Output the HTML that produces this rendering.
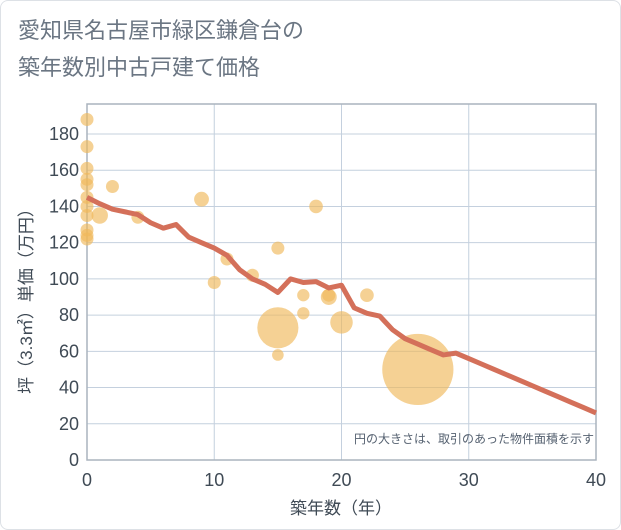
<!DOCTYPE html>
<html><head><meta charset="utf-8"><style>
body{margin:0;background:#fff;}
.wrap{position:relative;width:621px;height:530px;font-family:"Liberation Sans","Noto Sans CJK JP",sans-serif;}
.border{position:absolute;left:0;top:0;width:619px;height:528px;border:1px solid #dde1e6;border-radius:8px;}
.title{position:absolute;left:18px;top:12px;font-size:22px;color:#6b7683;line-height:37px;}
svg text{font-family:"Liberation Sans","Noto Sans CJK JP",sans-serif;}
</style></head><body>
<div class="wrap">
<div class="border"></div>
<div class="title">愛知県名古屋市緑区鎌倉台の<br>築年数別中古戸建て価格</div>
<svg id="c" width="621" height="530" style="position:absolute;left:0;top:0"></svg>
</div>
<script>
const xTicks=[0,10,20,30,40];
const yTicks=[0,20,40,60,80,100,120,140,160,180];
const lineYears=[0,1,2,3,4,5,6,7,8,9,10,11,12,13,14,15,16,17,18,19,20,21,22,23,24,25,26,27,28,29,30,31,32,33,34,35,36,37,38,39,40];
const lineValues=[145,141.5,138.5,137,135.5,131,128,130,123,120,117,113,105,100,97,92.5,100,98,98.5,95,96.5,84,81,79.5,72,67,64,61,58,59,56,53,50,47,44,41,38,35,32,29,26];
const bubbleYears=[0,0,0,0,0,0,0,0,0,0,0,1,2,4,9,10,11,13,15,15,15,17,17,18,19,19,20,22,26];
const bubbleValues=[188,173,161,155,152,145,140,135,127,124,122,135,151,134,144,98,111,102,117,73,58,91,81,140,90,91,76,91,50];
const bubbleSizes=[1,1,1,1,1,1,1,1,1,1,1,1.6,1,1,1.3,1,1,1,1,10,0.8,0.9,0.9,1.1,1.5,1,3,1.1,30];
const svg=document.getElementById('c');const NS='http://www.w3.org/2000/svg';
const L=87,R=596,T=104,B=460;
const xs=v=>L+(v/40)*(R-L);
const ys=v=>B-(v/180)*(460-134);
function mk(t,a){const e=document.createElementNS(NS,t);for(const k in a)e.setAttribute(k,a[k]);svg.appendChild(e);return e;}
xTicks.forEach(t=>{const l=mk('line',{x1:xs(t),x2:xs(t),y1:T,y2:B,stroke:'#c4d0de','stroke-width':1});


const tx=mk('text',{x:xs(t),y:486,'text-anchor':'middle','font-size':18,fill:'#3f4a55'});tx.textContent=t;

});
yTicks.forEach(t=>{const l=mk('line',{x1:L,x2:R,y1:ys(t),y2:ys(t),stroke:'#c4d0de','stroke-width':1});


const tx=mk('text',{x:79,y:ys(t)+6,'text-anchor':'end','font-size':18,fill:'#3f4a55'});tx.textContent=t;

});
const fr=mk('rect',{x:L,y:T,width:R-L,height:B-T,fill:'none',stroke:'#aab4be','stroke-width':1.5});


bubbleYears.forEach((yr,i)=>{const c=mk('circle',{cx:xs(yr),cy:ys(bubbleValues[i]),r:6.5*Math.sqrt(bubbleSizes[i]),fill:'#f0b85a','fill-opacity':0.65});

});
const p=mk('polyline',{points:lineYears.map((y,i)=>xs(y)+','+ys(lineValues[i])).join(' '),fill:'none',stroke:'#d4705a','stroke-width':5,'stroke-linejoin':'round'});


const n=mk('text',{x:594,y:443,'text-anchor':'end','font-size':12,fill:'#556170'});n.textContent='円の大きさは、取引のあった物件面積を示す';


const xt=mk('text',{x:341,y:514,'text-anchor':'middle','font-size':17,fill:'#3f4a55'});xt.textContent='築年数（年）';


const yt=mk('text',{x:0,y:0,'text-anchor':'middle','font-size':17,fill:'#3f4a55',transform:'translate(32,297) rotate(-90)'});yt.textContent='坪（3.3㎡）単価（万円）';


</script>
</body></html>
